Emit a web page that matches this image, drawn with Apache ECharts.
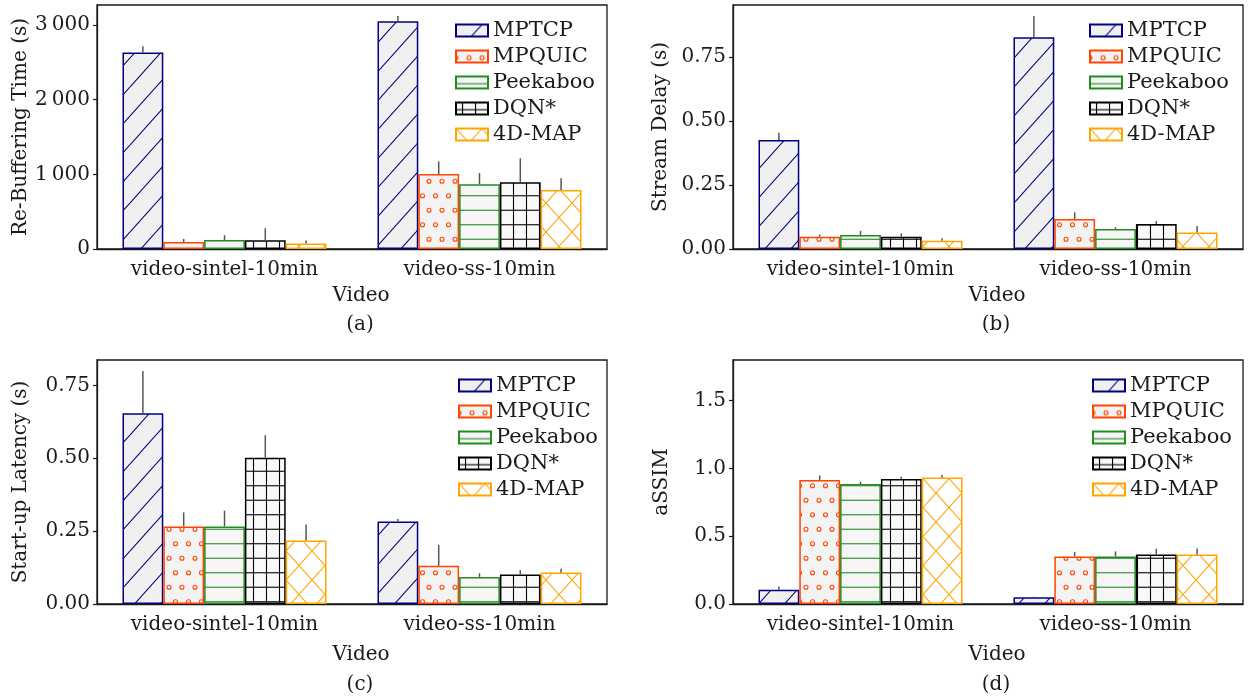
<!DOCTYPE html>
<html><head><meta charset="utf-8">
<script src="https://cdn.jsdelivr.net/npm/echarts@6/dist/echarts.min.js"></script>
<style>html,body{margin:0;padding:0;background:#fff}#c{width:1250px;height:699px}</style>
</head><body><div id="c"></div>
<script>
// ---------- data ----------
const categories = ['video-sintel-10min', 'video-ss-10min'];
const seriesNames = ['MPTCP', 'MPQUIC', 'Peekaboo', 'DQN*', '4D-MAP'];

// (a) Re-Buffering Time (s): rows follow seriesNames, columns follow categories
const rebufferMean = [[2633, 3052], [93, 1004], [120, 866], [118, 893], [73, 790]];
const rebufferErr  = [[81, 67], [41, 170], [65, 151], [160, 321], [40, 156]];
// (b) Stream Delay (s)
const delayMean = [[0.425, 0.826], [0.048, 0.117], [0.055, 0.078], [0.048, 0.098], [0.032, 0.064]];
const delayErr  = [[0.029, 0.083], [0.008, 0.026], [0.016, 0.007], [0.013, 0.011], [0.010, 0.026]];
// (c) Start-up Latency (s)
const startupMean = [[0.654, 0.283], [0.266, 0.131], [0.266, 0.093], [0.502, 0.101], [0.218, 0.108]];
const startupErr  = [[0.145, 0.009], [0.048, 0.072], [0.054, 0.012], [0.077, 0.015], [0.055, 0.013]];
// (d) aSSIM
const ssimMean = [[0.105, 0.049], [0.914, 0.351], [0.885, 0.351], [0.922, 0.366], [0.934, 0.366]];
const ssimErr  = [[0.025, 0.004], [0.034, 0.032], [0.017, 0.037], [0.017, 0.042], [0.017, 0.044]];

// tick values and labels
const rebufferTicks = [0, 1000, 2000, 3000];
const rebufferTickLabels = ['0', '1\u2009000', '2\u2009000', '3\u2009000'];
const delayTicks = [0, 0.25, 0.5, 0.75];
const delayTickLabels = ['0.00', '0.25', '0.50', '0.75'];
const startupTicks = [0, 0.25, 0.5, 0.75];
const startupTickLabels = ['0.00', '0.25', '0.50', '0.75'];
const ssimTicks = [0, 0.5, 1.0, 1.5];
const ssimTickLabels = ['0.0', '0.5', '1.0', '1.5'];

const yNames = ['Re-Buffering Time (s)', 'Stream Delay (s)', 'Start-up Latency (s)', 'aSSIM'];
const xName = 'Video';
const captions = ['(a)', '(b)', '(c)', '(d)'];

// ---------- styling ----------
const FONT = 'DejaVu Serif';
const FS = 20;
const LFS = 21;
const TXT = '#1a1a1a';
const strokeColors = ['#000080', '#ff4500', '#228b22', '#000000', '#ffa500'];
const fillColors = ['#f0f0f0', '#f3f3f3', '#f6f6f6', '#f9f9f9', '#ffffff'];
const hatchKinds = ['/', 'o', '-', '+', 'x'];

function makeTile(bg, stroke, kind) {
  const W = 26, H = 29;
  const cv = document.createElement('canvas');
  cv.width = W; cv.height = H;
  const g = cv.getContext('2d');
  g.fillStyle = bg; g.fillRect(0, 0, W, H);
  g.strokeStyle = stroke; g.lineWidth = 1.1;
  const line = (x1, y1, x2, y2) => { g.beginPath(); g.moveTo(x1, y1); g.lineTo(x2, y2); g.stroke(); };
  if (kind === '/' || kind === 'x') {
    for (let k = -1; k <= 1; k++) line(k * W, H, (k + 1) * W, 0);
  }
  if (kind === 'x') {
    for (let k = -1; k <= 1; k++) line(k * W, 0, (k + 1) * W, H);
  }
  if (kind === '-' || kind === '+') {
    line(0, H / 4, W, H / 4); line(0, 3 * H / 4, W, 3 * H / 4);
  }
  if (kind === '+') {
    line(W / 4, 0, W / 4, H); line(3 * W / 4, 0, 3 * W / 4, H);
  }
  if (kind === 'o') {
    g.lineWidth = 1.1;
    const pts = [[0, H / 4], [W / 2, H / 4], [W, H / 4], [W / 4, 3 * H / 4], [3 * W / 4, 3 * H / 4]];
    pts.forEach(p => { g.beginPath(); g.arc(p[0], p[1], 2, 0, Math.PI * 2); g.stroke(); });
  }
  return cv;
}
const patterns = hatchKinds.map((k, i) => ({ image: makeTile(fillColors[i], strokeColors[i], k), repeat: 'repeat' }));

const panels = [
  { mean: rebufferMean, err: rebufferErr, max: 3268, ticks: rebufferTicks, labels: rebufferTickLabels, grid: { left: 97, top: 5 }, nameGap: 66, xGap: 37, capY: 325 },
  { mean: delayMean, err: delayErr, max: 0.952, ticks: delayTicks, labels: delayTickLabels, grid: { left: 733, top: 5 }, nameGap: 62, xGap: 37, capY: 325 },
  { mean: startupMean, err: startupErr, max: 0.837, ticks: startupTicks, labels: startupTickLabels, grid: { left: 97, top: 360 }, nameGap: 66, xGap: 41, capY: 685 },
  { mean: ssimMean, err: ssimErr, max: 1.8, ticks: ssimTicks, labels: ssimTickLabels, grid: { left: 733, top: 360 }, nameGap: 61, xGap: 41, capY: 685 }
];

const grids = [], xAxes = [], yAxes = [], series = [], legends = [], graphics = [];
panels.forEach((p, pi) => {
  grids.push({ left: p.grid.left, top: p.grid.top, width: 510, height: 244, show: true,
    borderColor: '#1a1a1a', borderWidth: 1.3, backgroundColor: 'transparent' });
  xAxes.push({
    type: 'category', gridIndex: pi, data: categories,
    name: xName, nameLocation: 'middle', nameGap: p.xGap,
    nameTextStyle: { fontFamily: FONT, fontSize: FS, color: TXT, padding: [0, 0, 0, 18] },
    axisLine: { lineStyle: { color: '#1a1a1a', width: 1.3 } },
    axisTick: { alignWithLabel: true, length: 4, lineStyle: { color: '#1a1a1a', width: 1.2 } },
    axisLabel: { fontFamily: FONT, fontSize: FS, color: TXT, margin: 11 },
    splitLine: { show: false }
  });
  yAxes.push({
    type: 'value', gridIndex: pi, min: 0, max: p.max,
    name: yNames[pi], nameLocation: 'middle', nameGap: p.nameGap,
    nameTextStyle: { fontFamily: FONT, fontSize: FS, color: TXT },
    axisLine: { show: true, lineStyle: { color: '#1a1a1a', width: 1.3 } },
    axisTick: { show: true, length: 4, customValues: p.ticks, lineStyle: { color: '#1a1a1a', width: 1.2 } },
    axisLabel: { fontFamily: FONT, fontSize: FS, color: TXT, margin: 7, customValues: p.ticks,
      formatter: v => { const i = p.ticks.findIndex(t => Math.abs(t - v) < 1e-9); return i >= 0 ? p.labels[i] : ''; } },
    splitLine: { show: false }
  });
  seriesNames.forEach((name, si) => {
    series.push({
      type: 'bar', name, xAxisIndex: pi, yAxisIndex: pi,
      data: p.mean[si], barGap: '0%', barCategoryGap: '20%',
      itemStyle: { color: patterns[si], borderColor: strokeColors[si], borderWidth: 1.5 },
      emphasis: { disabled: true }, animation: false
    });
  });
  const errData = [];
  seriesNames.forEach((name, si) => {
    categories.forEach((c, ci) => errData.push([ci, si, p.mean[si][ci], p.mean[si][ci] + p.err[si][ci]]));
  });
  series.push({
    type: 'custom', xAxisIndex: pi, yAxisIndex: pi, data: errData, z: 5,
    encode: { x: 0, y: [2, 3] }, animation: false, silent: true,
    renderItem: (params, api) => {
      const ci = api.value(0), si = api.value(1);
      const bot = api.coord([ci, api.value(2)]);
      const top = api.coord([ci, api.value(3)]);
      const bw = api.size([1, 0])[0] * 0.8 / 5;
      const x = bot[0] + (si - 2) * bw;
      return { type: 'line', shape: { x1: x, y1: bot[1], x2: x, y2: top[1] },
        style: { stroke: '#555555', lineWidth: 1.5 } };
    }
  });
  const lx = [455, 1089, 458, 1092][pi];
  legends.push({
    orient: 'vertical', left: lx, top: p.grid.top + 14.5, padding: 0,
    itemWidth: 32, itemHeight: 12, itemGap: 4, icon: 'rect',
    textStyle: { fontFamily: FONT, fontSize: LFS, color: TXT, lineHeight: 22 },
    data: seriesNames, selectedMode: false
  });
  graphics.push({
    type: 'text', x: p.grid.left + 255 + 8, y: p.capY,
    style: { text: captions[pi], font: FS + 'px "' + FONT + '"', fill: TXT, align: 'center', verticalAlign: 'middle' }
  });
});

const chart = echarts.init(document.getElementById('c'), null, { renderer: 'canvas' });
chart.setOption({
  animation: false,
  backgroundColor: '#ffffff',
  grid: grids, xAxis: xAxes, yAxis: yAxes, series, legend: legends,
  graphic: graphics
});
</script>
</body></html>
